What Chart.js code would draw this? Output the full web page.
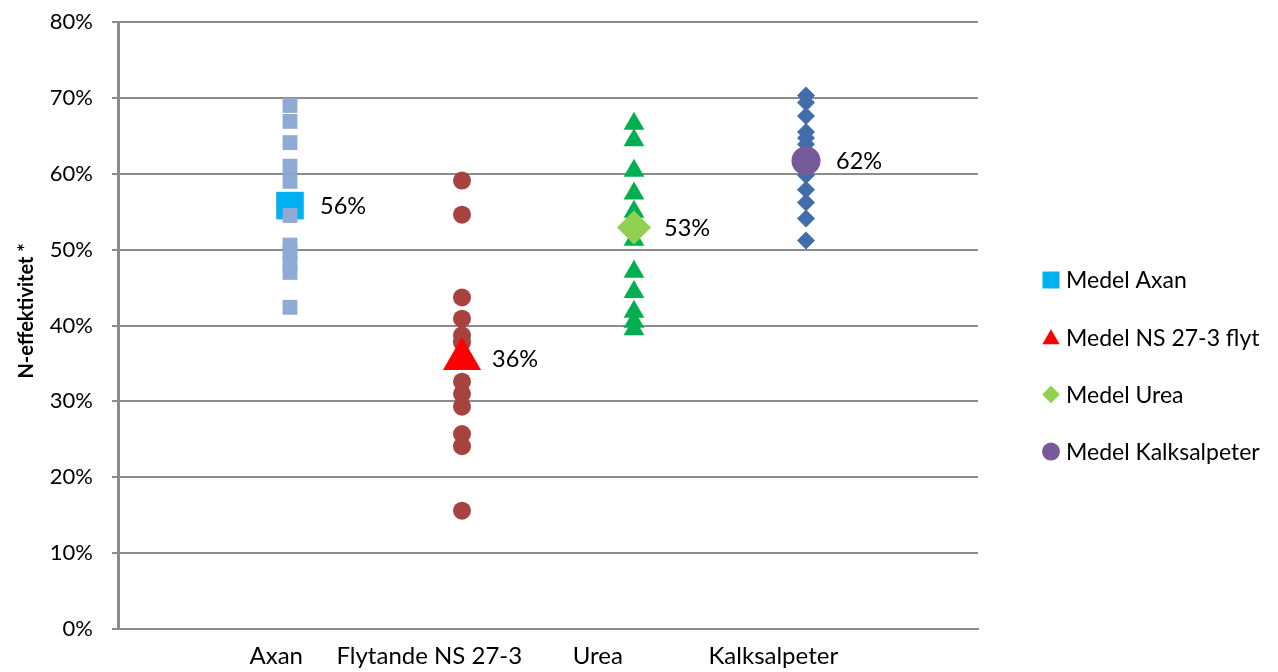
<!DOCTYPE html>
<html lang="sv">
<head>
<meta charset="utf-8">
<title>N-effektivitet</title>
<script src="https://cdn.jsdelivr.net/npm/chart.js@4.4.1/dist/chart.umd.min.js"></script>
<style>
    html, body { margin: 0; padding: 0; background: #ffffff; }
    #wrap { width: 1278px; height: 672px; position: relative; }
</style>
</head>
<body>
<div id="wrap"><canvas id="chart"></canvas></div>
<script>
// kategorier på x-axeln
const categories = ['Axan', 'Flytande NS 27-3', 'Urea', 'Kalksalpeter'];

// enskilda försök per gödselmedel (andel)
const axan = [0.690, 0.669, 0.641, 0.610, 0.590, 0.545, 0.506, 0.495, 0.482, 0.470, 0.424];
const flytande = [0.591, 0.546, 0.437, 0.409, 0.387, 0.378, 0.326, 0.310, 0.293, 0.257, 0.241, 0.156];
const urea = [0.666, 0.644, 0.604, 0.574, 0.550, 0.513, 0.471, 0.444, 0.418, 0.405, 0.395];
const kalksalpeter = [0.703, 0.694, 0.676, 0.655, 0.647, 0.639, 0.617, 0.598, 0.579, 0.562, 0.541, 0.512];

// medelvärden
const meanLabels = ['Medel Axan', 'Medel NS 27-3 flyt', 'Medel Urea', 'Medel Kalksalpeter'];
const meanValues = [0.558, 0.356, 0.529, 0.617];

const yTicks = [0, 0.1, 0.2, 0.3, 0.4, 0.5, 0.6, 0.7, 0.8];

const FONT = 'Lato';

const pct = v => Math.round(v * 100) + '%';
const pts = (values, idx) => values.map(v => ({ x: idx + 1, y: v }));

// värdeetiketter bredvid medelpunkterna
const meanLabelPlugin = {
    id: 'meanLabels',
    afterDatasetsDraw(chart) {
        const ctx = chart.ctx;
        ctx.save();
        ctx.font = `23.5px ${FONT}`;
        ctx.fillStyle = '#000000';
        ctx.textBaseline = 'middle';
        ctx.textAlign = 'left';
        chart.data.datasets.forEach((ds, i) => {
            if (!ds.isMean) return;
            const el = chart.getDatasetMeta(i).data[0];
            ctx.fillText(pct(ds.data[0].y), el.x + 30, el.y + 1);
        });
        ctx.restore();
    }
};

// förklaring till höger, bara medelvärdesserierna
const sideLegendPlugin = {
    id: 'sideLegend',
    afterDraw(chart) {
        const ctx = chart.ctx;
        const markX = chart.chartArea.right + 73;
        const textX = markX + 15;
        const top = 280;
        const step = 57.2;
        // markörstorlek per form i förklaringen
        const sizes = { rect: 12, triangle: 10, rectRot: 8.8, circle: 9 };
        ctx.save();
        ctx.font = `23px ${FONT}`;
        ctx.textBaseline = 'middle';
        ctx.textAlign = 'left';
        chart.data.datasets.filter(ds => ds.isMean).forEach((ds, i) => {
            const y = top + i * step;
            ctx.fillStyle = ds.backgroundColor;
            Chart.helpers.drawPoint(ctx, {
                pointStyle: ds.pointStyle,
                radius: sizes[ds.pointStyle],
                borderWidth: 0,
                rotation: 0
            }, markX, ds.pointStyle === 'triangle' ? y + 2 : y);
            ctx.fillStyle = '#000000';
            ctx.fillText(ds.label, textX, y + 1);
        });
        ctx.restore();
    }
};

const datasets = [
    {
        label: meanLabels[0], isMean: true, data: pts([meanValues[0]], 0),
        pointStyle: 'rect', pointRadius: 19.5, backgroundColor: '#00B0F0', order: 10
    },
    {
        label: meanLabels[1], isMean: true, data: pts([meanValues[1]], 1),
        pointStyle: 'triangle', pointRadius: 22, backgroundColor: '#FF0000', order: 1
    },
    {
        label: meanLabels[2], isMean: true, data: pts([meanValues[2]], 2),
        pointStyle: 'rectRot', pointRadius: 17, backgroundColor: '#92D050', order: 2
    },
    {
        label: meanLabels[3], isMean: true, data: pts([meanValues[3]], 3),
        pointStyle: 'circle', pointRadius: 14.5, backgroundColor: '#775A99', order: 3
    },
    {
        label: categories[0], data: pts(axan, 0),
        pointStyle: 'rect', pointRadius: 10.5, backgroundColor: '#8FAAD4', order: 5
    },
    {
        label: categories[1], data: pts(flytande, 1),
        pointStyle: 'circle', pointRadius: 9, backgroundColor: '#A8423F', order: 6
    },
    {
        label: categories[2], data: pts(urea, 2),
        pointStyle: 'triangle', pointRadius: 12, backgroundColor: '#00B050', order: 7
    },
    {
        label: categories[3], data: pts(kalksalpeter, 3),
        pointStyle: 'rectRot', pointRadius: 9, backgroundColor: '#416EAA', order: 8
    }
];
datasets.forEach(ds => {
    ds.pointBorderWidth = 0;
    ds.borderWidth = 0;
    ds.pointHoverRadius = ds.pointRadius;
    ds.showLine = false;
});

new Chart(document.getElementById('chart'), {
    type: 'scatter',
    data: { datasets },
    options: {
        responsive: true,
        maintainAspectRatio: false,
        animation: false,
        layout: { padding: { top: 19, left: 0, right: 300, bottom: 0 } },
        plugins: {
            tooltip: { enabled: false },
            legend: { display: false }
        },
        scales: {
            x: {
                type: 'linear',
                min: 0,
                max: 5,
                afterBuildTicks: scale => {
                    // etiketterna sitter lite till vänster om punkterna
                    const at = [0.92, 1.81, 2.79, 3.81];
                    scale.ticks = at.map(v => ({ value: v }));
                },
                afterFit: scale => { scale.height = 43; },
                grid: { display: false },
                border: { display: true, color: '#8C8C8C', width: 2 },
                ticks: {
                    autoSkip: false,
                    maxRotation: 0,
                    padding: 5,
                    color: '#000000',
                    font: { family: FONT, size: 24 },
                    callback: (v, i) => categories[i]
                }
            },
            y: {
                min: 0,
                max: 0.8,
                afterBuildTicks: scale => { scale.ticks = yTicks.map(v => ({ value: v })); },
                afterFit: scale => {
                    scale.width = 118;
                    scale.paddingTop = 13;
                    scale.paddingBottom = 13;
                },
                grid: { color: '#8C8C8C', lineWidth: 2, tickLength: 6 },
                border: { display: true, color: '#8C8C8C', width: 3 },
                ticks: {
                    padding: 19,
                    color: '#000000',
                    font: { family: FONT, size: 22 },
                    callback: v => pct(v)
                },
                title: {
                    display: true,
                    // inledande mellanslag lyfter titeln något
                    text: '      N-effektivitet *',
                    color: '#000000',
                    font: { family: FONT, size: 20, weight: 'bold' },
                    padding: { top: 15, bottom: 0 }
                }
            }
        }
    },
    plugins: [meanLabelPlugin, sideLegendPlugin]
});
</script>
</body>
</html>
